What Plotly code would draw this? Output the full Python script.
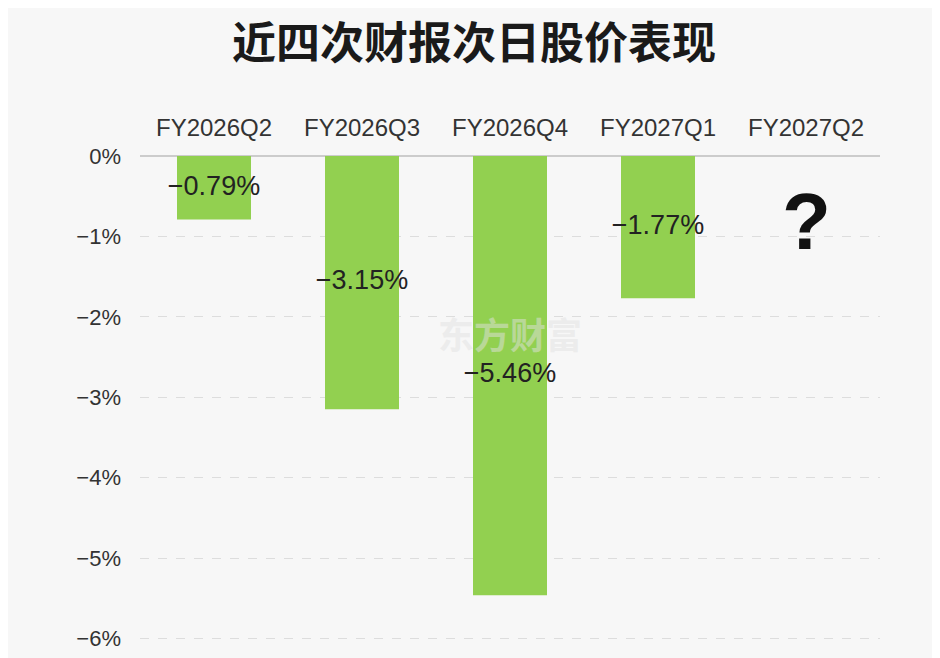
import plotly.graph_objects as go

# 近四次财报次日股价表现 (%)
quarters = ['FY2026Q2', 'FY2026Q3', 'FY2026Q4', 'FY2027Q1', 'FY2027Q2']
changes = [-0.79, -3.15, -5.46, -1.77, None]
y_ticks = [0, -1, -2, -3, -4, -5, -6]
y_tick_labels = ['0%', '−1%', '−2%', '−3%', '−4%', '−5%', '−6%']

labels = ['' if v is None else f'−{abs(v):.2f}%' for v in changes]
mid = [None if v is None else v / 2 for v in changes]

fig = go.Figure()
fig.add_trace(go.Bar(
    x=quarters, y=changes, width=0.5,
    marker=dict(color='#92d050', line=dict(width=0)),
    hoverinfo='skip',
))
# value labels centred in each bar
fig.add_trace(go.Scatter(
    x=quarters, y=mid, mode='text', text=labels,
    textfont=dict(family='Liberation Sans, Arial', size=27, color='#222222'),
    hoverinfo='skip',
))

# faint watermark
fig.add_annotation(
    x=0.5, y=-2.2, xref='paper', yref='y', text='<b>东方财富</b>', showarrow=False,
    font=dict(family='Noto Sans CJK SC', size=36, color='rgba(225,225,225,0.5)'),
)
# the quarter still to come
fig.add_annotation(
    x=quarters[4], y=-0.82, text='<b>?</b>', showarrow=False,
    font=dict(family='Liberation Sans, Arial', size=80, color='#111111'),
)

fig.update_layout(
    width=932, height=650,
    paper_bgcolor='#f7f7f7', plot_bgcolor='#f7f7f7',
    margin=dict(l=132, r=60, t=148, b=13),
    showlegend=False,
    title=dict(
        text='<b>近四次财报次日股价表现</b>', x=0.5, xanchor='center',
        y=1 - 36 / 650, yanchor='middle', yref='container',
        font=dict(family='Noto Sans CJK SC', size=44, color='#1a1a1a', weight=900),
    ),
)
fig.update_xaxes(
    side='top', showgrid=False, showline=False, zeroline=False, automargin=False,
    tickfont=dict(family='Liberation Sans, Arial', size=24, color='#333333'),
    ticklabelstandoff=14,
)
fig.update_yaxes(
    range=[-6.08, 0], tickvals=y_ticks, ticktext=y_tick_labels, automargin=False,
    showgrid=True, gridcolor='#dddddd', griddash='dash', gridwidth=1,
    zeroline=True, zerolinecolor='#cccccc', zerolinewidth=1.5,
    tickfont=dict(family='Liberation Sans, Arial', size=22, color='#333333'),
    ticklabelstandoff=18,
)

fig.write_html('out.html')
